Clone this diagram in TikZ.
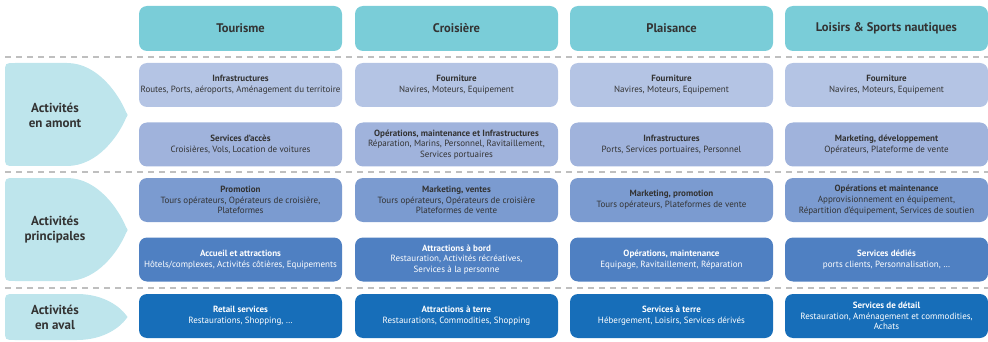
\documentclass[tikz,border=0pt]{standalone}
\usepackage{fontspec}
\setmainfont{PT Sans}
\usepackage{xcolor}
\usepackage{tikz}

\definecolor{hdrcol}{HTML}{7ACDD8}
\definecolor{upAcol}{HTML}{B4C4E4}
\definecolor{upBcol}{HTML}{A0B3DC}
\definecolor{mainAcol}{HTML}{7B9BD0}
\definecolor{mainBcol}{HTML}{4F80C2}
\definecolor{downcol}{HTML}{176EB9}
\definecolor{chevcol}{HTML}{BEE5EC}
\definecolor{txtcol}{HTML}{333333}
\definecolor{sepcol}{HTML}{BFBFBF}

\begin{document}
\begin{tikzpicture}[x=1pt,y=-1pt,
    box/.style={rounded corners=8pt,minimum width=203pt,minimum height=44pt,
        align=center,inner sep=1pt,text=txtcol,font=\fontsize{9}{10.8}\selectfont},
    hdr/.style={box,fill=hdrcol,minimum height=45pt,font=\fontsize{12.5}{15}\selectfont\bfseries},
    upA/.style={box,fill=upAcol},
    upB/.style={box,fill=upBcol},
    mainA/.style={box,fill=mainAcol},
    mainB/.style={box,fill=mainBcol,text=white},
    down/.style={box,fill=downcol,text=white},
    chev/.style={fill=chevcol},
    chevlabel/.style={align=center,text=txtcol,font=\fontsize{13}{15}\selectfont\bfseries},
    sepline/.style={draw=sepcol,line width=1.5pt,dash pattern=on 6pt off 5pt}]
            \useasboundingbox (0,0) rectangle (988,342);

            % separators
            \draw[sepline] (5,57) -- (988,57);
            \draw[sepline] (5,172) -- (988,172);
            \draw[sepline] (5,288) -- (988,288);

            % headers
            \node[hdr] at (240.5,28.5) (tourisme) {Tourisme};
            \node[hdr] at (456.5,28.5) (croisiere) {Croisière};
            \node[hdr] at (671.5,28.5) (plaisance) {Plaisance};
            \node[hdr] at (886.5,28.5) (loisirs) {Loisirs \& Sports nautiques};

            % left labels
            \fill[chev] (15,63) -- (67,63) .. controls (98,63) and (119,95) .. (126,112)
                .. controls (128,115) .. (126,118)
                .. controls (119,135) and (98,166) .. (67,166) -- (15,166)
                .. controls (5,166) .. (5,156) -- (5,73) .. controls (5,63) .. (15,63) -- cycle;
            \node[chevlabel] at (55,115) (amont) {Activités\\en amont};
            \fill[chev] (15,178) -- (67,178) .. controls (98,178) and (119,210) .. (126,227)
                .. controls (128,230) .. (126,233)
                .. controls (119,250) and (98,281) .. (67,281) -- (15,281)
                .. controls (5,281) .. (5,271) -- (5,188) .. controls (5,178) .. (15,178) -- cycle;
            \node[chevlabel] at (55,230) (principales) {Activités\\principales};
            \fill[chev] (15,294) -- (77,294) .. controls (105,294) and (121,308) .. (126,315)
                .. controls (128,317) .. (126,319)
                .. controls (121,326) and (105,340) .. (77,340) -- (15,340)
                .. controls (5,340) .. (5,330) -- (5,304) .. controls (5,294) .. (15,294) -- cycle;
            \node[chevlabel] at (55,317) (aval) {Activités\\en aval};

            % amont
            \node[upA] at (240.5,85) (tourInfra) {\textbf{Infrastructures}\\Routes, Ports, aéroports, Aménagement du territoire};
            \node[upA] at (456.5,85) (croiFourn) {\textbf{Fourniture}\\Navires, Moteurs, Equipement};
            \node[upA] at (671.5,85) (plaiFourn) {\textbf{Fourniture}\\Navires, Moteurs, Equipement};
            \node[upA] at (886.5,85) (loisFourn) {\textbf{Fourniture}\\Navires, Moteurs, Equipement};

            \node[upB] at (240.5,144.5) (tourAcces) {\textbf{Services d'accès}\\Croisières, Vols, Location de voitures};
            \node[upB] at (456.5,144.5) (croiOper) {\textbf{Opérations, maintenance et Infrastructures}\\Réparation, Marins, Personnel, Ravitaillement,\\Services portuaires};
            \node[upB] at (671.5,144.5) (plaiInfra) {\textbf{Infrastructures}\\Ports, Services portuaires, Personnel};
            \node[upB] at (886.5,144.5) (loisMark) {\textbf{Marketing, développement}\\Opérateurs, Plateforme de vente};

            % principales
            \node[mainA] at (240.5,200) (tourPromo) {\textbf{Promotion}\\Tours opérateurs, Opérateurs de croisière,\\Plateformes};
            \node[mainA] at (456.5,200) (croiMark) {\textbf{Marketing, ventes}\\Tours opérateurs, Opérateurs de croisière\\Plateformes de vente};
            \node[mainA] at (671.5,200) (plaiMark) {\textbf{Marketing, promotion}\\Tours opérateurs, Plateformes de vente};
            \node[mainA] at (886.5,200) (loisOper) {\textbf{Opérations et maintenance}\\Approvisionnement en équipement,\\Répartition d'équipement, Services de soutien};

            \node[mainB] at (240.5,259.5) (tourAccueil) {\textbf{Accueil et attractions}\\Hôtels/complexes, Activités côtières, Equipements};
            \node[mainB] at (456.5,259.5) (croiBord) {\textbf{Attractions à bord}\\Restauration, Activités récréatives,\\Services à la personne};
            \node[mainB] at (671.5,259.5) (plaiOper) {\textbf{Opérations, maintenance}\\Equipage, Ravitaillement, Réparation};
            \node[mainB] at (886.5,259.5) (loisDedies) {\textbf{Services dédiés}\\ports clients, Personnalisation, \dots};

            % aval
            \node[down] at (240.5,316) (tourRetail) {\textbf{Retail services}\\Restaurations, Shopping, \dots};
            \node[down] at (456.5,316) (croiTerre) {\textbf{Attractions à terre}\\Restaurations, Commodities, Shopping};
            \node[down] at (671.5,316) (plaiTerre) {\textbf{Services à terre}\\Hébergement, Loisirs, Services dérivés};
            \node[down] at (886.5,316) (loisDetail) {\textbf{Services de détail}\\Restauration, Aménagement et commodities,\\Achats};
        \end{tikzpicture}
\end{document}
